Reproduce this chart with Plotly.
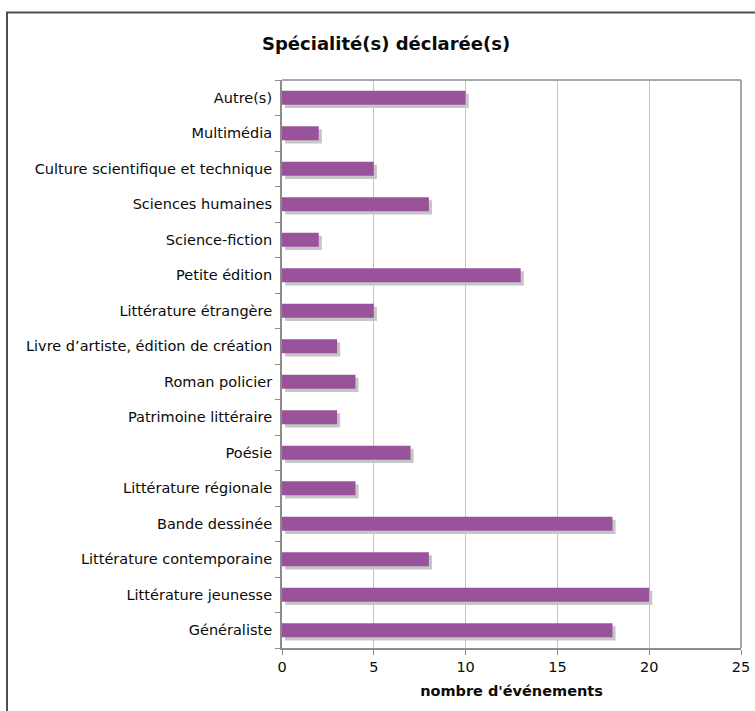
import plotly.graph_objects as go

categories = [
    "Généraliste",
    "Littérature jeunesse",
    "Littérature contemporaine",
    "Bande dessinée",
    "Littérature régionale",
    "Poésie",
    "Patrimoine littéraire",
    "Roman policier",
    "Livre d’artiste, édition de création",
    "Littérature étrangère",
    "Petite édition",
    "Science-fiction",
    "Sciences humaines",
    "Culture scientifique et technique",
    "Multimédia",
    "Autre(s)",
]
values = [18, 20, 8, 18, 4, 7, 3, 4, 3, 5, 13, 2, 8, 5, 2, 10]
x_ticks = [0, 5, 10, 15, 20, 25]

W, H = 755, 711
L, R, T, B = 282, 14, 80, 63
pw, ph = W - L - R, H - T - B

def px_x(px):
    return (px - L) / pw

def px_y(py):
    return (H - B - py) / ph

FONT = "DejaVu Sans, Verdana, sans-serif"
FS = 14.5

fig = go.Figure()
# shadow
fig.add_trace(go.Bar(
    y=categories, x=values, orientation="h",
    base=0.17, width=0.4, offset=-0.2 - 0.09,
    marker=dict(color="#c6c6c6", line=dict(width=0)),
    hoverinfo="skip", showlegend=False,
))
# main bars
fig.add_trace(go.Bar(
    y=categories, x=values, orientation="h",
    width=0.4, offset=-0.2,
    marker=dict(color="#98539a", line=dict(width=0)),
    showlegend=False,
))

fig.update_layout(
    width=W, height=H,
    margin=dict(l=L, r=R, t=T, b=B, autoexpand=False),
    paper_bgcolor="white", plot_bgcolor="white",
    barmode="overlay",
    font=dict(family=FONT, size=FS, color="#0a0a0a"),
    xaxis=dict(
        range=[0, 25], tickvals=x_ticks, ticktext=[str(v) for v in x_ticks],
        showgrid=True, gridcolor="#c4c4c4", gridwidth=1,
        zeroline=False, showline=True, linecolor="#8c8c8c", linewidth=2,
        ticks="outside", ticklen=5, tickcolor="#8c8c8c",
        title=dict(text="<b>nombre d'événements</b>", font=dict(size=FS), standoff=11),
        tickfont=dict(size=FS),
    ),
    yaxis=dict(
        type="category", categoryorder="array", categoryarray=categories,
        range=[-0.5, len(categories) - 0.5],
        showgrid=False, zeroline=False, showline=True,
        linecolor="#8c8c8c", linewidth=2,
        ticks="outside", tickson="boundaries", ticklen=5, tickcolor="#8c8c8c",
        ticklabelstandoff=5, tickfont=dict(size=FS),
    ),
    shapes=[
        # top / right plot border
        dict(type="line", xref="paper", yref="paper", x0=0, x1=1, y0=1, y1=1,
             line=dict(color="#a8a8a8", width=2)),
        dict(type="line", xref="paper", yref="paper", x0=1, x1=1, y0=0, y1=1,
             line=dict(color="#a8a8a8", width=2)),
        # outer frame
        dict(type="rect", xref="paper", yref="paper",
             x0=px_x(7), x1=px_x(770), y0=px_y(730), y1=px_y(12.5),
             line=dict(color="#4d4d4d", width=2), layer="above"),
    ],
    annotations=[
        dict(text="<b>Spécialité(s) déclarée(s)</b>", xref="paper", yref="paper",
             x=px_x(386), y=px_y(43), showarrow=False,
             xanchor="center", yanchor="middle",
             font=dict(family=FONT, size=18, color="#0a0a0a")),
    ],
)

fig.write_html("out.html", config={"displayModeBar": False},
               post_script="document.body.style.margin='0';document.body.style.overflow='hidden';")
